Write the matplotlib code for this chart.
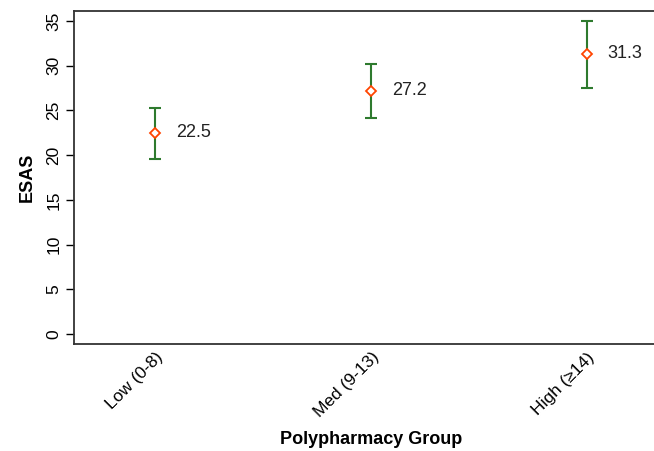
import matplotlib
matplotlib.use("Agg")
import matplotlib.pyplot as plt

plt.rcParams['font.family'] = ['Liberation Sans', 'DejaVu Sans']

# data
groups = ['Low (0-8)', 'Med (9-13)', 'High (\u226514)']
means = [22.5, 27.2, 31.3]
lower = [19.6, 24.2, 27.5]
upper = [25.3, 30.2, 35.0]
y_ticks = [0, 5, 10, 15, 20, 25, 30, 35]

W, H = 654, 451
fig = plt.figure(figsize=(W / 100, H / 100), dpi=100)
# axes box runs a little past the right edge, as in the cropped original
left, right, top, bottom = 74, 668, 11, 344
ax = fig.add_axes([left / W, 1 - bottom / H, (right - left) / W, (bottom - top) / H])

x = [1, 2, 3]
yerr = [[m - lo for m, lo in zip(means, lower)], [up - m for m, up in zip(means, upper)]]
ax.errorbar(x, means, yerr=yerr, fmt='none', ecolor='#2e7a2e', elinewidth=1.5,
            capsize=4, capthick=1.5, zorder=2)
ax.plot(x, means, linestyle='none', marker='D', markersize=5.5, markerfacecolor='white',
        markeredgecolor='#ff4500', markeredgewidth=1.3, zorder=3)
for xi, m in zip(x, means):
    ax.annotate(f'{m:.1f}', (xi, m), xytext=(15, 0), textcoords='offset points',
                ha='left', va='center', fontsize=13, color='#222222')

ax.set_xlim(0.625, 3.375)
ax.set_ylim(-1.1, 36.1)
ax.set_yticks(y_ticks)
ax.set_yticklabels([str(t) for t in y_ticks], rotation=90, va='center', fontsize=12.5)
ax.tick_params(axis='y', length=6, width=1, pad=3)
ax.set_xticks(x)
ax.set_xticklabels(groups, rotation=45, ha='right', va='top', rotation_mode='anchor', fontsize=12.5)
ax.tick_params(axis='x', length=0, pad=4)
for s in ax.spines.values():
    s.set_linewidth(1.3)
    s.set_color('#333333')

ax.set_ylabel('ESAS', fontsize=13, fontweight='bold', labelpad=8)
ax.set_xlabel('Polypharmacy Group', fontsize=13, fontweight='bold', labelpad=8)

fig.savefig('out.png', dpi=100)
